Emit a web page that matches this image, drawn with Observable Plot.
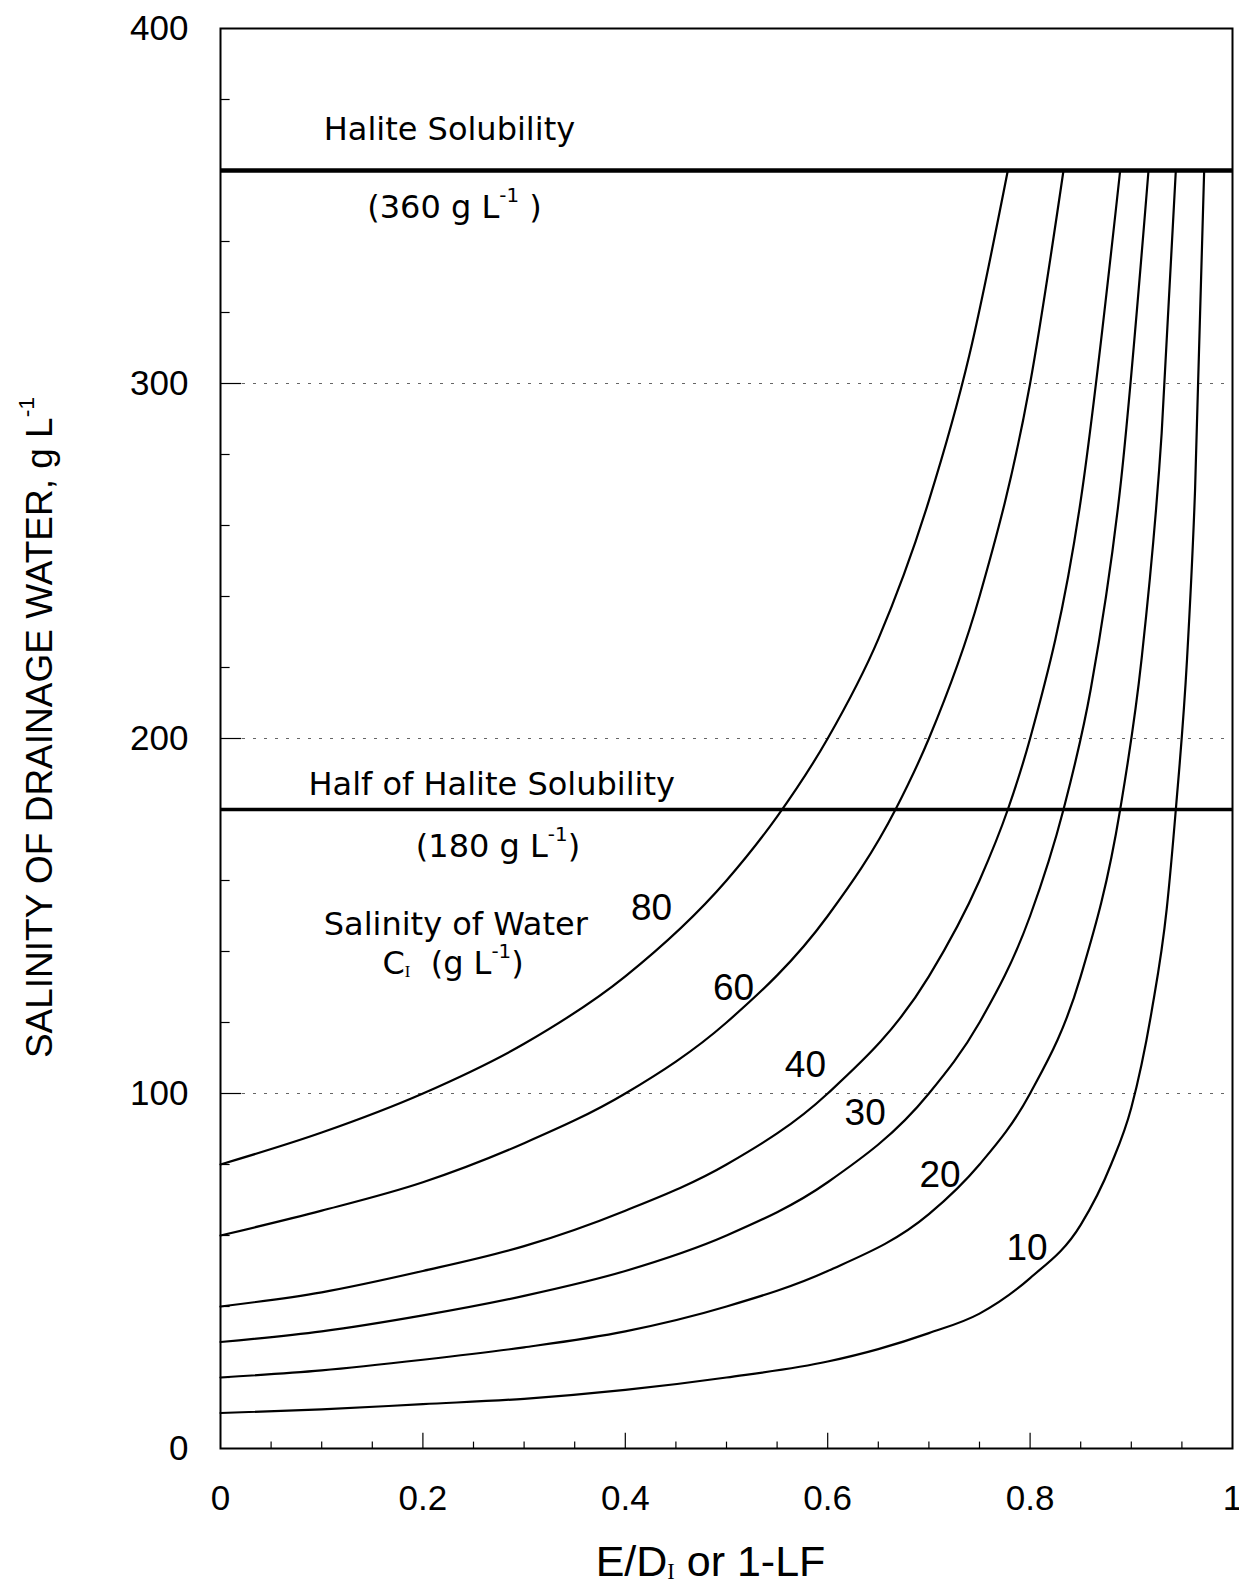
<!DOCTYPE html>
<html>
<head>
<meta charset="utf-8">
<script src="https://cdn.jsdelivr.net/npm/d3@7"></script>
<script src="https://cdn.jsdelivr.net/npm/@observablehq/plot@0.6"></script>
<style>
  html, body { margin: 0; padding: 0; background: #fff; }
  #chart svg { display: block; }
</style>
</head>
<body>
<div id="chart"></div>
<script>
// ---- Data (x = E/DI or 1-LF, y = salinity of drainage water, g/L) ----
const fraction80 = [0, 0.1, 0.2, 0.3, 0.4, 0.5, 0.55, 0.6, 0.65, 0.7, 0.74, 0.778];
const drain80    = [80, 89, 100, 114, 133, 160, 178, 200, 228, 267, 308, 360];

const fraction60 = [0, 0.1, 0.2, 0.3, 0.4, 0.5, 0.6, 0.667, 0.7, 0.75, 0.8, 0.833];
const drain60    = [60, 67, 75, 86, 100, 120, 150, 180, 200, 240, 300, 360];

const fraction40 = [0, 0.1, 0.2, 0.3, 0.4, 0.5, 0.6, 0.7, 0.75, 0.778, 0.8, 0.85, 0.889];
const drain40    = [40, 44, 50, 57, 67, 80, 100, 133, 160, 180, 200, 267, 360];

const fraction30 = [0, 0.1, 0.2, 0.3, 0.4, 0.5, 0.6, 0.7, 0.75, 0.8, 0.833, 0.86, 0.89, 0.917];
const drain30    = [30, 33, 37.5, 43, 50, 60, 75, 100, 120, 150, 180, 214, 273, 360];

const fraction20 = [0, 0.1, 0.2, 0.3, 0.4, 0.5, 0.6, 0.7, 0.75, 0.8, 0.85, 0.889, 0.91, 0.93, 0.944];
const drain20    = [20, 22, 25, 28.5, 33, 40, 50, 66, 80, 100, 133, 180, 222, 286, 360];

const fraction10 = [0, 0.1, 0.2, 0.3, 0.4, 0.5, 0.6, 0.65, 0.7, 0.75, 0.8, 0.85, 0.88, 0.9, 0.92, 0.935, 0.944, 0.955, 0.963, 0.972];
const drain10    = [10, 11, 12.5, 14, 16.5, 20, 24.5, 28, 32.5, 38, 48, 63, 80, 96, 123, 152, 180, 222, 270, 360];

const curveLevels = [80, 60, 40, 30, 20, 10];
const curveLabelX = [0.426, 0.507, 0.578, 0.637, 0.711, 0.797];
const curveLabelY = [148.8, 126.3, 104.6, 91.0, 73.6, 53.0];

const haliteLevel = [360];
const halfHaliteLevel = [180];
const gridLevels = [100, 200, 300];

const noteTexts = ["Halite Solubility", "(360 g L^{-1} )", "Half of Halite Solubility", "(180 g L^{-1})", "Salinity of Water", "C_{I}  (g L^{-1})"];
const noteX = [0.102, 0.145, 0.087, 0.193, 0.102, 0.160];
const noteY = [368.7, 346.7, 184.1, 166.6, 144.6, 133.6];

const xTicks = [0, 0.2, 0.4, 0.6, 0.8, 1];
const xTickLabels = ["0", "0.2", "0.4", "0.6", "0.8", "1"];
const xMinorTicks = [0.05, 0.1, 0.15, 0.25, 0.3, 0.35, 0.45, 0.5, 0.55, 0.65, 0.7, 0.75, 0.85, 0.9, 0.95];
const yTicks = [0, 100, 200, 300, 400];
const yMinorTicks = [20, 40, 60, 80, 120, 140, 160, 180, 220, 240, 260, 280, 320, 340, 380];

const xTitle = "E/D_{I} or 1-LF";
const yTitle = "SALINITY OF DRAINAGE WATER, g L^{-1}";

// ---- Build table ----
const series = [
  {level: 80, xs: fraction80, ys: drain80},
  {level: 60, xs: fraction60, ys: drain60},
  {level: 40, xs: fraction40, ys: drain40},
  {level: 30, xs: fraction30, ys: drain30},
  {level: 20, xs: fraction20, ys: drain20},
  {level: 10, xs: fraction10, ys: drain10}
];
const lineData = series.flatMap(s => s.xs.map((x, i) => ({level: s.level, x, y: s.ys[i]})));

const arial = "'Liberation Sans', Arial, sans-serif";

const plot = Plot.plot({
  width: 1239,
  height: 1583,
  marginLeft: 220,
  marginRight: 7,
  marginTop: 28,
  marginBottom: 135,
  style: {fontFamily: "'DejaVu Sans', sans-serif", background: "white", color: "black", overflow: "visible"},
  x: {domain: [0, 1]},
  y: {domain: [0, 400]},
  marks: [
    Plot.ruleY(gridLevels, {stroke: "#666", strokeWidth: 1, strokeDasharray: "3,8"}),
    Plot.line(lineData, {x: "x", y: "y", z: "level", stroke: "black", strokeWidth: 2.2, curve: "monotone-x"}),
    Plot.ruleY(haliteLevel, {stroke: "black", strokeWidth: 4.5}),
    Plot.ruleY(halfHaliteLevel, {stroke: "black", strokeWidth: 3.5}),
    // inward ticks
    Plot.ruleX(xMinorTicks, {y1: 0, y2: 1.8, stroke: "black", strokeWidth: 1.2}),
    Plot.ruleX(xTicks.slice(1, -1), {y1: 0, y2: 4.3, stroke: "black", strokeWidth: 1.2}),
    Plot.ruleY(yMinorTicks, {x1: 0, x2: 0.0095, stroke: "black", strokeWidth: 1.2}),
    Plot.ruleY(yTicks.slice(1, -1), {x1: 0, x2: 0.021, stroke: "black", strokeWidth: 1.2}),
    Plot.frame({stroke: "black", strokeWidth: 2}),
    Plot.axisX({ticks: xTicks, tickSize: 0, tickPadding: 37, fontSize: 35, fontFamily: arial, label: null,
      tickFormat: d => xTickLabels[xTicks.indexOf(d)]}),
    Plot.axisY({ticks: yTicks, tickSize: 0, tickPadding: 32, fontSize: 35, fontFamily: arial, label: null}),
    Plot.text(curveLevels, {x: (d, i) => curveLabelX[i], y: (d, i) => curveLabelY[i], text: d => String(d),
      fontSize: 37, fontFamily: arial, textAnchor: "middle", lineAnchor: "bottom"}),
    Plot.text(noteTexts, {x: (d, i) => noteX[i], y: (d, i) => noteY[i], text: d => d,
      fontSize: 32, textAnchor: "start", lineAnchor: "bottom"}),
    Plot.text([yTitle], {frameAnchor: "left", text: d => d, rotate: -90, dx: -180, dy: -11,
      fontSize: 37, fontFamily: arial, textAnchor: "middle", lineAnchor: "middle"}),
    Plot.text([xTitle], {frameAnchor: "bottom", text: d => d, dx: -16, dy: 127,
      fontSize: 43, fontFamily: arial, textAnchor: "middle", lineAnchor: "bottom"})
  ]
});

// ---- rich text: ^{...} superscript, _{...} subscript ----
function fontSizeOf(el) {
  let n = el;
  while (n && n.getAttribute) {
    const f = n.getAttribute("font-size");
    if (f) return parseFloat(f);
    n = n.parentNode;
  }
  return 16;
}
function richify(el) {
  const s = el.textContent;
  const re = /([\^_])\{([^}]*)\}/g;
  if (!/([\^_])\{/.test(s)) return;
  const fs = fontSizeOf(el);
  while (el.firstChild) el.removeChild(el.firstChild);
  const add = (txt, attrs) => {
    const t = document.createElementNS("http://www.w3.org/2000/svg", "tspan");
    for (const k in attrs) if (attrs[k] !== null) t.setAttribute(k, attrs[k]);
    t.textContent = txt;
    el.appendChild(t);
  };
  let last = 0, shift = 0, m;
  while ((m = re.exec(s))) {
    if (m.index > last) { add(s.slice(last, m.index), {dy: shift ? -shift : null}); shift = 0; }
    const sup = m[1] === "^";
    const d = sup ? -0.5 * fs : 0.08 * fs;
    if (sup) add(m[2], {"font-size": 0.62 * fs, dy: d - shift});
    else add(m[2], {"font-size": 0.52 * fs, "font-family": "'Liberation Serif', serif", dy: d - shift});
    shift = d;
    last = re.lastIndex;
  }
  if (last < s.length) add(s.slice(last), {dy: shift ? -shift : null});
}
plot.querySelectorAll("text").forEach(richify);
plot.querySelectorAll("text").forEach(t => { if (/\s\s/.test(t.textContent)) t.setAttribute("xml:space", "preserve"); });
plot.querySelectorAll("tspan").forEach(t => t.setAttribute("style", "white-space: pre"));

document.getElementById("chart").appendChild(plot);
</script>
</body>
</html>
